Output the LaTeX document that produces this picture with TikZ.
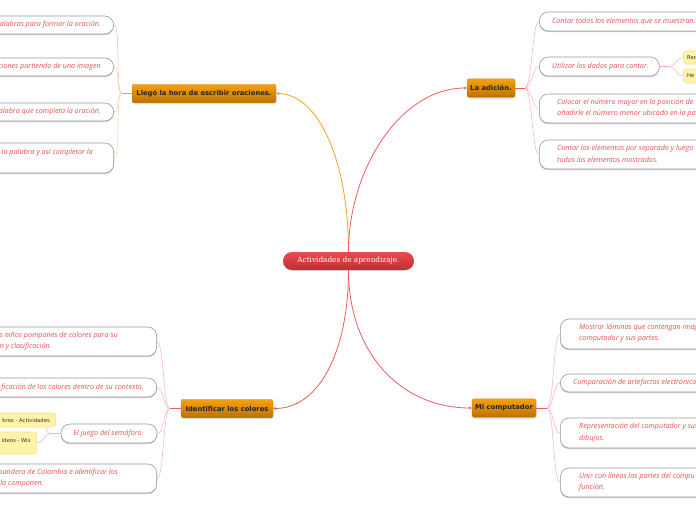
\documentclass[tikz,border=0pt]{standalone}
\usepackage{fontspec}
\usetikzlibrary{arrows.meta,shadows}
\newfontfamily\kidfont{Open Sans}
\newfontfamily\topicfont{DejaVu Sans}
\newfontfamily\hubfont{DejaVu Serif}
\definecolor{hubtop}{HTML}{EC4B50}
\definecolor{hubbot}{HTML}{BE2D33}
\definecolor{topictop}{HTML}{F8A10C}
\definecolor{topicbot}{HTML}{BC7000}
\definecolor{trunkred}{HTML}{F2585C}
\definecolor{trunkorange}{HTML}{F7A21B}
\definecolor{twigpink}{HTML}{F9B1B1}
\definecolor{twigorange}{HTML}{FCD39C}
\definecolor{leafgrey}{HTML}{9A9A9A}
\definecolor{kidred}{HTML}{E45252}
\definecolor{notefill}{HTML}{FFF3A8}
\definecolor{noteedge}{HTML}{F7E38A}
\definecolor{notetext}{HTML}{333333}

\tikzset{
  hub/.style={rounded corners=9pt, top color=hubtop, bottom color=hubbot,
    minimum width=131pt, minimum height=18pt, text=white, inner sep=0pt,
    font=\hubfont\fontsize{7.3}{8}\selectfont,
    drop shadow={shadow xshift=0pt, shadow yshift=-1pt, opacity=0.25}},
  topic/.style={rounded corners=2pt, top color=topictop, bottom color=topicbot,
    draw=topicbot!80, line width=0.3pt, minimum height=18.5pt, inner sep=0pt,
    text=black!85, font=\topicfont\bfseries\fontsize{6.8}{8}\selectfont,
    drop shadow={shadow xshift=0.5pt, shadow yshift=-1pt, opacity=0.3}},
  leaf/.style={draw=leafgrey, fill=white, rounded corners=9pt, line width=0.6pt,
    inner sep=0pt, minimum width=250pt,
    drop shadow={shadow xshift=0pt, shadow yshift=-1.2pt, fill=black!20, opacity=1}},
  leaftext/.style={text=kidred, inner sep=0pt, align=left,
    font=\kidfont\itshape\fontsize{7.2}{11.5}\selectfont},
  note/.style={fill=notefill, draw=noteedge, rounded corners=3pt, line width=0.6pt,
    inner sep=0pt, minimum width=80pt},
  notetext/.style={text=notetext, inner sep=0pt,
    font=\topicfont\fontsize{5.3}{7}\selectfont},
  trunk/.style={line width=0.8pt, -{Stealth[length=3pt,width=3pt]}},
  stub/.style={line width=0.8pt},
  twig/.style={line width=0.5pt, draw=twigpink},
}

\begin{document}
\begin{tikzpicture}[x=1pt, y=-1pt]
  \useasboundingbox (0,0) rectangle (696,520);
  \clip (0,0) rectangle (696,520);

  % ── Central topic and main branches ──
  \node[hub] (hub) at (348.5,261) {Actividades de aprendizaje.};
  \node[topic, minimum width=144pt] (llego) at (204,93.5) {Llegó la hora de escribir oraciones.};
  \node[topic, minimum width=48pt] (adicion) at (491,88) {La adición.};
  \node[topic, minimum width=92pt] (colores) at (227,408.5) {Identificar los colores};
  \node[topic, minimum width=64pt] (compu) at (504,408) {Mi computador};

  % junctions where the twigs fan out
  \coordinate (lj) at (122,93.5);
  \coordinate (aj) at (525,88);
  \coordinate (cj) at (170,408.5);
  \coordinate (mj) at (547,408);

  % ── Llegó la hora de escribir oraciones (left, top) ──
  \node[leaf, minimum height=18pt, anchor=east] (l1) at (114,25) {};
  \node[leaf, minimum height=18pt, anchor=east] (l2) at (114,67) {};
  \node[leaf, minimum height=18pt, anchor=east] (l3) at (114,112) {};
  \node[leaf, minimum height=30pt, anchor=east] (l4) at (114,158) {};
  \node[leaftext, anchor=east] (l1t) at (101,25) {palabras para formar la oración.};
  \node[leaftext, anchor=east] (l2t) at (101,67) {ciones partiendo de una imagen};
  \node[leaftext, anchor=east] (l3t) at (101,112) {palabra que completa la oración.};
  \node[leaftext, anchor=east] (l4t) at (93,153) {la palabra y así completar la};

  % ── La adición (right, top) ──
  \node[leaf, minimum height=19pt, anchor=west] (a1) at (539,21.5) {};
  \node[leaf, minimum height=19pt, minimum width=120pt, anchor=west] (a2) at (539,66.5) {};
  \node[leaf, minimum height=29pt, anchor=west] (a3) at (539,108.5) {};
  \node[leaf, minimum height=29pt, anchor=west] (a4) at (539,154.5) {};
  \node[leaftext, anchor=west] (a1t) at (552,21.5) {Contar todos los elementos que se muestran.};
  \node[leaftext, anchor=west] (a2t) at (552,66.5) {Utilizar los dados para contar.};
  \node[leaftext, anchor=west] (a3t) at (557,108) {Colocar el número mayor en la posición de\\añadirle el número menor ubicado en la par};
  \node[leaftext, anchor=west] (a4t) at (557,154) {Contar los elementos por separado y luego\\todos los elementos mostrados.};
  \coordinate (nj) at (669,66.5);
  \node[note, minimum height=13pt, anchor=west] (r1) at (683,57.5) {};
  \node[note, minimum height=14pt, anchor=west] (r2) at (683,76) {};
  \node[notetext, anchor=west] (r1t) at (687,57.5) {Rec};
  \node[notetext, anchor=west] (r2t) at (687,76) {He};

  % ── Identificar los colores (left, bottom) ──
  \node[leaf, minimum height=29pt, anchor=east] (i1) at (157,341.5) {};
  \node[leaf, minimum height=19pt, anchor=east] (i2) at (157,387.5) {};
  \node[leaf, minimum height=19pt, minimum width=96pt] (i3) at (109,433.5) {};
  \node[leaf, minimum height=29pt, anchor=east] (i4) at (157,478.5) {};
  \node[leaftext, anchor=east] (i1t) at (118,341) {os niños pompones de colores para su\\ón y clasificación.};
  \node[leaftext, anchor=east] (i2t) at (144,387.5) {ficación de los colores dentro de su contexto.};
  \node[leaftext] (i3t) at (108.5,433.5) {El juego del semáforo.};
  \node[leaftext, anchor=east] (i4t) at (118,478) {bandera de Colombia e identificar los\\\ la componen.};
  \coordinate (yj) at (51,433.5);
  \node[note, minimum height=14pt, anchor=east] (y1) at (56,420) {};
  \node[note, minimum height=22pt, anchor=east] (y2) at (37,443) {};
  \node[notetext, anchor=east] (y1t) at (50,420.5) {bros - Actividades};
  \node[notetext, anchor=east] (y2t) at (31,440) {ídeos - Wix};

  % ── Mi computador (right, bottom) ──
  \node[leaf, minimum height=30pt, anchor=west] (m1) at (560,334) {};
  \node[leaf, minimum height=18pt, anchor=west] (m2) at (560,383) {};
  \node[leaf, minimum height=30pt, anchor=west] (m3) at (560,433) {};
  \node[leaf, minimum height=29pt, anchor=west] (m4) at (560,482.5) {};
  \node[leaftext, anchor=west] (m1t) at (579,333) {Mostrar láminas que contengan imág\\computador y sus partes.};
  \node[leaftext, anchor=west] (m2t) at (573,383) {Comparación de artefactos electrónico};
  \node[leaftext, anchor=west] (m3t) at (579,432.5) {Representación del computador y sus\\dibujos.};
  \node[leaftext, anchor=west] (m4t) at (579,482) {Unir con líneas las partes del compu\\función.};

  % ── Trunks from the centre ──
  \draw[trunk, trunkorange] (hub.north) .. controls (348.5,160) and (318,93.5) .. (llego.east);
  \draw[trunk, trunkred] (hub.north) .. controls (348.5,170) and (400,88) .. (adicion.west);
  \draw[trunk, trunkred] (hub.south) .. controls (348.5,350) and (320,408.5) .. (colores.east);
  \draw[trunk, trunkred] (hub.south) .. controls (348.5,352) and (400,408) .. (compu.west);

  % ── Twigs ──
  \draw[stub, trunkorange] (llego.west) -- (lj);
  \draw[twig] (lj) .. controls +(-7,0) and +(7,0) .. (l1.east);
  \foreach \b in {l2,l3,l4}
    \draw[twig, draw=twigorange] (lj) .. controls +(-7,0) and +(7,0) .. (\b.east);

  \draw[stub, trunkred] (adicion.east) -- (aj);
  \foreach \b in {a1,a2,a3,a4}
    \draw[twig] (aj) .. controls +(7,0) and +(-7,0) .. (\b.west);
  \draw[twig] (a2.east) -- (nj);
  \foreach \b in {r1,r2}
    \draw[twig] (nj) .. controls +(7,0) and +(-7,0) .. (\b.west);

  \draw[stub, trunkred] (colores.west) -- (cj);
  \foreach \b in {i1,i2,i3,i4}
    \draw[twig] (cj) .. controls +(-7,0) and +(7,0) .. (\b.east);
  \draw[twig] (i3.west) -- (yj);
  \draw[twig] (yj) .. controls +(-4,0) and +(0,3) .. ([xshift=-10pt]y1.south east);
  \draw[twig] (yj) .. controls +(-7,0) and +(7,0) .. (y2.east);

  \draw[stub, trunkred] (compu.east) -- (mj);
  \foreach \b in {m1,m2,m3,m4}
    \draw[twig] (mj) .. controls +(7,0) and +(-7,0) .. (\b.west);

\end{tikzpicture}
\end{document}
